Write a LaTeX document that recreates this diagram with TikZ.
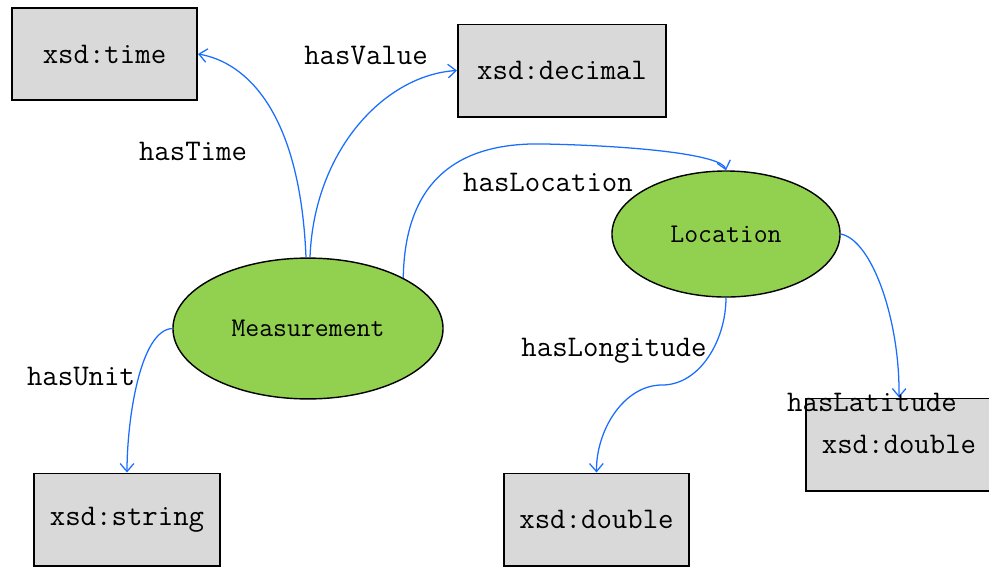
\documentclass[tikz,border=0pt]{standalone}
\usepackage{fontspec}
\usetikzlibrary{shapes.geometric,arrows.meta}
\definecolor{classgreen}{HTML}{92D050}
\definecolor{typegray}{HTML}{D9D9D9}
\definecolor{propblue}{HTML}{1A6EFF}
\begin{document}
\begin{tikzpicture}[x=0.025cm,y=-0.025cm]
            \tikzset{
	cls/.style={draw, ellipse, fill=classgreen, line width=1pt, inner sep=0pt,
		font=\ttfamily\fontsize{19.2}{20}\selectfont},
	dtype/.style={draw, rectangle, fill=typegray, line width=1.4pt, inner sep=0pt,
		minimum width=4.625cm, minimum height=2.3cm,
		font=\ttfamily\fontsize{21.3}{22}\selectfont},
	prop/.style={font=\ttfamily\fontsize{21.3}{22}\selectfont, inner sep=0pt},
	rel/.style={draw=propblue, line width=.9pt, -{Straight Barb[length=2mm,width=3.4mm]}}
}
\useasboundingbox (0,0) rectangle (989,568);

% classes
\node[cls, minimum width=6.75cm, minimum height=3.52cm] (meas) at (308,328.5) {Measurement};
\node[cls, minimum width=5.7cm, minimum height=3.15cm] (loc) at (726,234) {Location};

% datatypes
\node[dtype] (time) at (104.5,54) {xsd:time};
\node[dtype, minimum width=5.2cm] (dec) at (562,70.5) {xsd:decimal};
\node[dtype] (str) at (127,519.5) {xsd:string};
\node[dtype] (lon) at (596.5,519.5) {xsd:double};
\node[dtype] (lat) at (899,444.5) {xsd:double};

% properties
\draw[rel] (meas.north) ++(-2,0) coordinate (m1) (m1) .. controls (300,110) and (245,62) .. (time.east);
\draw[rel] (meas.north) ++(2,0) coordinate (m2) (m2) .. controls (314,150) and (385,75) .. (dec.west);
\draw[rel] (meas.28) .. controls (405,170) and (470,142) .. (545,144)
	.. controls (640,146) and (722,155) .. (loc.north);
\draw[rel] (meas.west) .. controls (140,330) and (127,420) .. (str.north);
\draw[rel] (loc.south) .. controls (726,340) and (700,385) .. (662,385)
	.. controls (624,385) and (596,430) .. (lon.north);
\draw[rel] (loc.east) .. controls (872,240) and (900,320) .. (lat.north);

\node[prop] (ltime) at (193,151) {hasTime};
\node[prop] (lvalue) at (366,55) {hasValue};
\node[prop] (lloc) at (548,182) {hasLocation};
\node[prop] (lunit) at (81,377) {hasUnit};
\node[prop] (llon) at (614,351) {hasLongitude};
\node[prop] (llat) at (872,402) {hasLatitude};
        \end{tikzpicture}
\end{document}
